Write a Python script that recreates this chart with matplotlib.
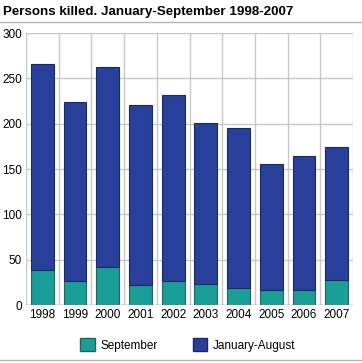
import numpy as np
import matplotlib.pyplot as plt
from matplotlib.patches import Patch
from matplotlib.lines import Line2D

plt.rcParams['font.family'] = ['Liberation Sans', 'DejaVu Sans']

# data
years = ["1998", "1999", "2000", "2001", "2002", "2003", "2004", "2005", "2006", "2007"]
total = [266, 224, 262, 221, 232, 201, 195, 156, 164, 174]
september = [39, 26, 42, 22, 26, 23, 19, 16, 16, 28]
jan_aug = [t - s for t, s in zip(total, september)]

teal = "#1a9e98"
blue = "#29409a"
grid = "#c8c8c8"

fig = plt.figure(figsize=(3.62, 3.63), dpi=100)
ax = fig.add_axes([26 / 362, 1 - 305 / 363, 327 / 362, 272 / 363])

x = np.arange(len(years))
ax.bar(x, september, width=0.7, color=teal, edgecolor="#2f5f60", linewidth=0.8, zorder=3)
ax.bar(x, jan_aug, bottom=september, width=0.7, color=blue, edgecolor="#1c2a60", linewidth=0.8, zorder=3)

ax.set_xlim(-0.5, len(years) - 0.5)
ax.set_ylim(0, 300)
ax.set_yticks(range(0, 301, 50))
ax.set_xticks(x)
ax.set_xticklabels(years)
ax.tick_params(length=0, labelsize=8.5, pad=3)

# grid: horizontal at ticks, vertical between categories
for yv in range(50, 301, 50):
    ax.axhline(yv, color=grid, linewidth=1, zorder=1)
for xv in np.arange(-0.5, len(years), 1.0):
    ax.axvline(xv, color=grid, linewidth=1, zorder=1)
ax.axhline(0, color="#888888", linewidth=1, zorder=4)
for s in ax.spines.values():
    s.set_visible(False)

fig.text(3 / 362, 1 - 12 / 363, "Persons killed. January-September 1998-2007",
         fontsize=9.6, fontweight="bold", va="center", ha="left")
fig.add_artist(Line2D([0, 1], [1 - 22 / 363] * 2, color="#b4b4b4", linewidth=1))
fig.add_artist(Line2D([0, 1], [1 - 360 / 363] * 2, color="#b4b4b4", linewidth=1))

handles = [Patch(facecolor=teal, edgecolor="#2f5f60", label="September"),
           Patch(facecolor=blue, edgecolor="#1c2a60", label="January-August")]
fig.legend(handles=handles, loc="center", bbox_to_anchor=(188 / 362, 1 - 345 / 363), ncol=2,
           frameon=False, fontsize=8.5, handlelength=1.2, handleheight=1.2,
           columnspacing=3, handletextpad=0.5)

plt.savefig("out.png", dpi=100)
